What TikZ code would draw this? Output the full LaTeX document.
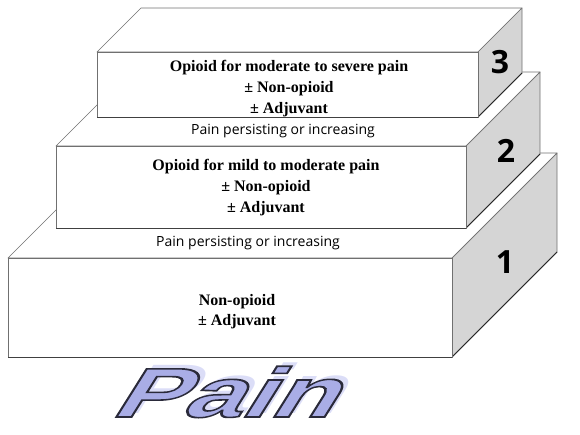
\documentclass[tikz,border=0pt]{standalone}
\usepackage{fontspec}
\setmainfont{Liberation Serif}
\newfontfamily\comicf{Open Sans}
\newfontfamily\painf{Liberation Sans}
\definecolor{sidegray}{HTML}{D5D5D5}
\definecolor{edgec}{HTML}{707070}
\definecolor{painfill}{HTML}{A9ADE6}
\definecolor{painline}{HTML}{2A2A3A}
\definecolor{painshadow}{HTML}{B8BCF0}
\newcommand\drawstep[5]{%
  % #1 front left x, #2 front right x, #3 front top y, #4 front bottom y, #5 depth
  \path[fill=white,draw=edgec,line width=0.7pt,line join=round]
    (#1,#3) -- (#1+#5,#3-#5) -- (#2+#5,#3-#5) -- (#2,#3) -- cycle;
  \path[fill=sidegray,draw=edgec,line width=0.7pt,line join=round]
    (#2,#3) -- (#2+#5,#3-#5) -- (#2+#5,#4-#5) -- (#2,#4) -- cycle;
  \draw[black!85,line width=0.8pt] (#2,#4) -- (#2+#5,#4-#5);
  \path[fill=white,draw=edgec,line width=0.7pt] (#1,#3) rectangle (#2,#4);
  \draw[black!75,line width=0.8pt] (#1,#4) -- (#2,#4);
}
\newcommand\outlinedword[1]{\special{pdf:literal direct 2 Tr 1.6 w 0.165 0.165 0.227 RG}#1\special{pdf:literal direct 0 Tr}}
\tikzset{
  boxtext/.style={font=\bfseries\fontsize{16}{21}\selectfont, align=center, inner sep=0pt},
  steplabel/.style={font=\comicf\fontsize{14}{16}\selectfont, inner sep=0pt},
  stepnum/.style={font=\comicf\bfseries\fontsize{32}{32}\selectfont, inner sep=0pt},
  painword/.style={font=\painf\bfseries\fontsize{70}{70}\selectfont, inner sep=0pt, transform shape}
}
\begin{document}
\begin{tikzpicture}[x=1pt,y=-1pt]
\useasboundingbox (0,0) rectangle (580,435);
% step 1
\drawstep{8}{452}{258}{357}{105}
% step 2
\drawstep{56}{466}{146}{228}{74}
% step 3
\drawstep{97}{478}{52}{117}{44}

\node[boxtext] (t3) at (289,89) {Opioid for moderate to severe pain\\\textpm\ Non-opioid\\\textpm\ Adjuvant};
\node[boxtext] (t2) at (266,188) {Opioid for mild to moderate pain\\\textpm\ Non-opioid\\\textpm\ Adjuvant};
\node[boxtext,font=\bfseries\fontsize{16}{20}\selectfont] (t1) at (237,312) {Non-opioid\\\textpm\ Adjuvant};

\node[steplabel] (p2) at (283,131) {Pain persisting or increasing};
\node[steplabel] (p1) at (248,243) {Pain persisting or increasing};

\node[stepnum] (n3) at (500,62) {3};
\node[stepnum] (n2) at (506,151) {2};
\node[stepnum] (n1) at (505,262) {1};

\begin{scope}[shift={(236,392)}, xscale=1.5, xslant=0.42]
  \node[painword, text=painshadow, opacity=0.5] (ps) at (3,-3.5) {Pain};
  \node[painword, text=painfill] (pain) at (0,0) {\outlinedword{Pain}};
\end{scope}
\end{tikzpicture}
\end{document}
